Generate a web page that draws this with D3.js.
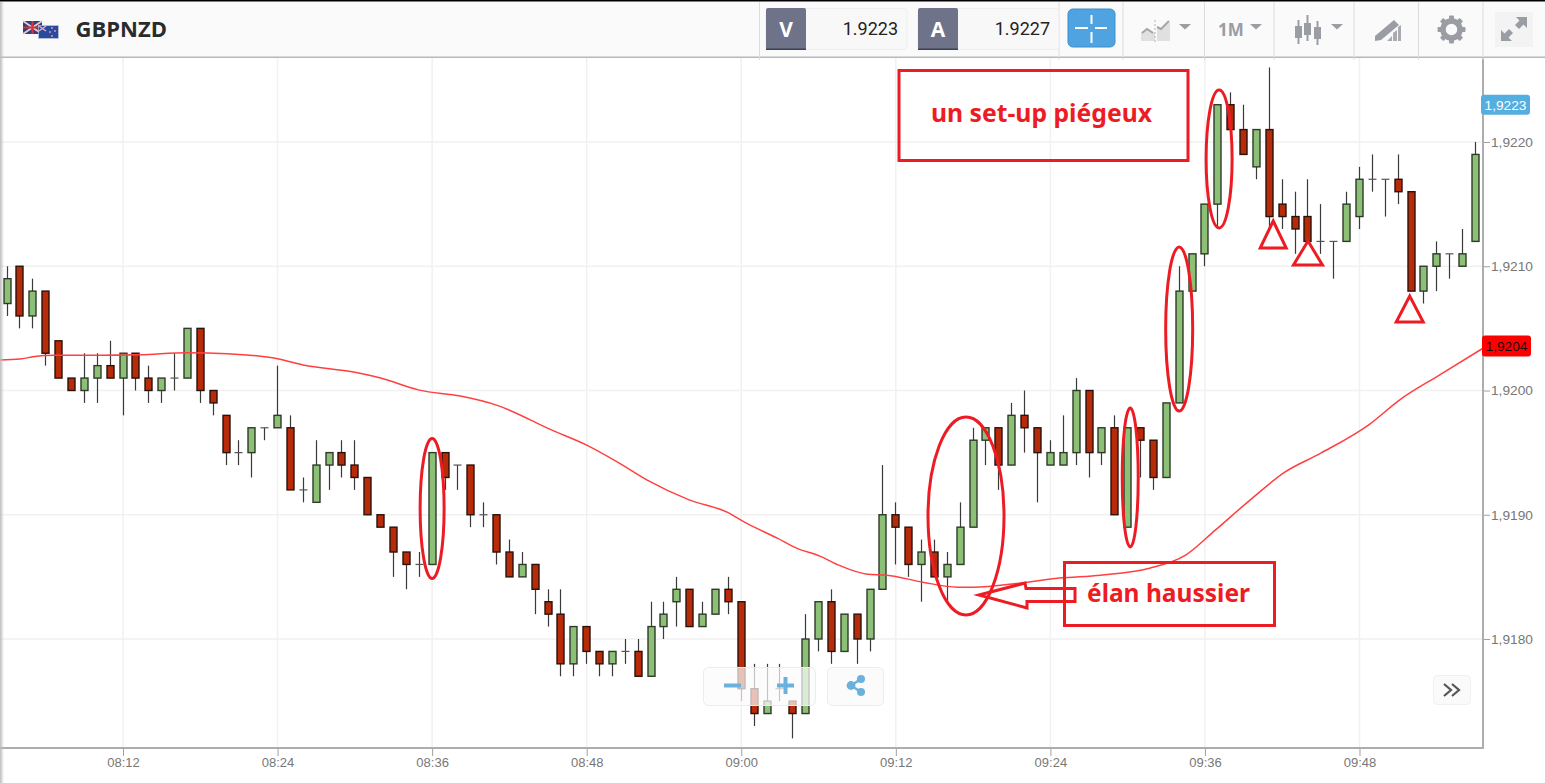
<!DOCTYPE html>
<html><head><meta charset="utf-8">
<style>html,body{margin:0;padding:0;background:#fff;overflow:hidden}svg{display:block}</style>
<script src="https://cdnjs.cloudflare.com/ajax/libs/d3/7.8.5/d3.min.js"></script>
</head><body><svg id="c" width="1545" height="783"></svg>
<script>
// ---- data (prices in 1/10000 above 1.9000; one candle per minute from 08:03) ----
const firstMinute = 483;
const opens = [207,210,206,208,204,201,200,201,202,201,203,201,200,201,201,205,200,198,195,195,197,197,197,192,191,194,195,194,193,190,189,187,186,186,195,194,194,190,190,187,185,186,183,182,178,181,179,178,179,179,177,181,183,184,181,182,184,183,176,174,176,175,174,180,183,179,182,180,184,190,189,186,187,185,186,189,196,197,194,198,197,194,194,195,200,195,197,189,197,196,193,199,208,211,215,223,221,218,221,215,214,214,212,212,212,214,217,217,217,216,208,210,211,210,212];
const highs = [210,210,209,208,204,201,203,203,204,203,203,202,201,203,205,205,200,198,196,197,197,202,198,193,196,195,196,196,193,190,189,187,187,195,195,194,194,191,190,188,187,186,184,184,181,181,179,179,180,180,183,183,185,184,183,184,185,183,178,178,178,175,182,183,184,182,182,184,194,191,189,188,188,187,191,197,197,197,199,200,197,196,198,201,200,197,198,197,197,196,199,210,211,215,223,224,223,221,226,217,216,217,215,212,216,218,219,217,219,216,210,212,211,213,220];
const lows = [206,205,205,202,201,200,199,199,201,198,200,199,199,200,201,199,198,194,194,193,196,197,192,191,191,192,193,192,190,189,185,184,185,186,192,192,189,189,186,185,185,182,181,177,177,178,177,177,178,177,177,180,181,181,181,182,182,175,173,174,175,172,174,179,178,179,178,179,184,186,185,183,185,183,186,189,194,192,194,195,191,194,194,194,193,194,190,189,193,192,193,199,208,210,213,221,219,217,213,213,211,212,211,209,212,213,216,214,215,208,207,208,209,210,212];
const closes = [209,206,208,203,201,200,201,202,201,203,201,200,201,201,205,200,199,195,195,197,197,198,192,192,194,195,194,193,190,189,187,186,186,195,193,194,190,190,187,185,186,184,182,178,181,179,178,179,179,177,181,182,184,181,182,184,183,176,174,175,176,174,180,183,179,182,180,184,190,189,186,187,185,186,189,196,197,194,198,197,195,195,195,200,195,197,190,197,196,193,199,208,211,215,223,221,219,221,214,214,213,212,212,212,215,217,217,217,216,208,210,211,211,211,219];
const maMinutes = [482.45,484,485,486.7,490.2,493.3,497,500.1,504,506,509.9,512,515,518.2,521,525.3,528,530.4,532.7,536,538.9,540.4,542.8,544.3,546.1,547.4,549.8,551.3,554.1,556.8,558,561.6,564.7,567.9,571.7,574.5,576.8,579.5,582.2,585,588.8,591.1,594.2,597.6];
const maValues = [202.45,202.53,202.71,202.83,202.83,202.87,203.04,202.96,202.55,202.05,201.48,201.0,200.03,199.55,198.82,196.81,195.6,194.23,192.78,191.18,190.21,189.32,188.12,187.31,186.67,186.02,185.22,185.14,184.57,184.17,184.17,184.49,184.9,185.14,185.7,186.75,188.76,191.18,193.43,194.96,197.3,199.23,201.24,203.41];
const timeTicks = ["08:12","08:24","08:36","08:48","09:00","09:12","09:24","09:36","09:48"];
const priceTicks = [180,190,200,210,220];
const symbol = "GBPNZD", bid = "1.9223", ask = "1.9227", bidTag = "1,9223", maTag = "1,9204";
const note1 = "un set-up piégeux", note2 = "élan haussier";
const ellipseMarks = [[516,190.5,12,70],[557.45,189.9,38,99],[570.2,193,8,69.5],[574,204.95,13.5,82],[577.1,218.63,13,69]];
const triangleMarks = [[581.3,213.64,13,27],[584,212.03,14.5,24],[591.9,207.6,13.5,26]];

const toMin = s => { const [h,m] = s.split(":").map(Number); return h*60+m; };
const toPrice = p => 1.9 + p/10000;
const candles = opens.map((o,i)=>({t:firstMinute+i,o,h:highs[i],l:lows[i],c:closes[i]}));
const plot = {r:1483,b:748,t:58};
const x = d3.scaleLinear().domain([492,588]).range([123,1359.5]);
const y = d3.scaleLinear().domain([toPrice(180),toPrice(220)]).range([639,142]);

const svg = d3.select("#c");
const defs = svg.append("defs");
defs.append("clipPath").attr("id","plotclip").append("rect").attr("x",0).attr("y",plot.t).attr("width",plot.r).attr("height",plot.b-plot.t);
const g0 = defs.append("linearGradient").attr("id","edge");
g0.append("stop").attr("offset",0).attr("stop-color","#bdbdbd");
g0.append("stop").attr("offset",1).attr("stop-color","#bdbdbd").attr("stop-opacity",0);

svg.append("rect").attr("width",1545).attr("height",783).attr("fill","#fff");

// grid
const grid = svg.append("g").attr("stroke","#f1f1f1").attr("stroke-width",1.5);
grid.selectAll("line.v").data(timeTicks).join("line").attr("x1",d=>x(toMin(d))).attr("x2",d=>x(toMin(d))).attr("y1",plot.t).attr("y2",plot.b);
grid.selectAll("line.h").data(priceTicks).join("line").attr("y1",d=>y(toPrice(d))).attr("y2",d=>y(toPrice(d))).attr("x1",0).attr("x2",plot.r);

// axes
const xAxis = svg.append("g").attr("transform",`translate(0,${plot.b})`)
  .call(d3.axisBottom(x).tickValues(timeTicks.map(toMin)).tickSize(8).tickSizeOuter(0).tickPadding(2)
    .tickFormat((d,i)=>timeTicks[i]));
const yAxis = svg.append("g").attr("transform",`translate(${plot.r},0)`)
  .call(d3.axisRight(y).tickValues(priceTicks.map(toPrice)).tickSize(7).tickSizeOuter(0).tickPadding(1)
    .tickFormat(d=>d3.format(".4f")(d).replace(".",",")));
[xAxis,yAxis].forEach(a=>{
  a.selectAll("text").attr("fill","#777").style("font","13.7px 'Liberation Sans',Arial,sans-serif");
  a.selectAll(".tick line").attr("stroke","#a0a0a0");
  a.select(".domain").remove();
});
xAxis.selectAll("text").style("font","13px 'Liberation Sans',Arial,sans-serif");
svg.append("line").attr("x1",0).attr("x2",plot.r+1).attr("y1",plot.b).attr("y2",plot.b).attr("stroke","#adadad").attr("stroke-width",2);
svg.append("line").attr("x1",plot.r).attr("x2",plot.r).attr("y1",plot.t).attr("y2",plot.b+1).attr("stroke","#adadad").attr("stroke-width",2);

// candles
const chart = svg.append("g").attr("clip-path","url(#plotclip)");
const cg = chart.selectAll("g.c").data(candles).join("g").attr("class","c");
const cx = d => Math.floor(x(d.t))+.5;
cg.append("line").attr("x1",cx).attr("x2",cx)
  .attr("y1",d=>y(toPrice(d.h))).attr("y2",d=>y(toPrice(d.l))).attr("stroke","#3a3a3a").attr("stroke-width",1.2);
cg.filter(d=>d.o!==d.c).append("rect")
  .attr("x",d=>cx(d)-3.5).attr("width",7)
  .attr("y",d=>y(toPrice(Math.max(d.o,d.c)))).attr("height",d=>Math.abs(y(toPrice(d.o))-y(toPrice(d.c))))
  .attr("fill",d=>d.c>d.o?"#8bc076":"#b72b08").attr("stroke",d=>d.c>d.o?"#2f3a2a":"#2a120c").attr("stroke-width",1.4);
cg.filter(d=>d.o===d.c).append("line")
  .attr("x1",d=>cx(d)-4).attr("x2",d=>cx(d)+4)
  .attr("y1",d=>y(toPrice(d.o))).attr("y2",d=>y(toPrice(d.o))).attr("stroke","#555").attr("stroke-width",1.2);

// moving average
chart.append("path").datum(maMinutes.map((m,i)=>[m,maValues[i]]))
  .attr("fill","none").attr("stroke","#ff4040").attr("stroke-width",1.5)
  .attr("d",d3.line().x(d=>x(d[0])).y(d=>y(toPrice(d[1]))).curve(d3.curveMonotoneX));

// zoom widgets
const widget = svg.append("g");
widget.append("rect").attr("x",703.5).attr("y",667.5).attr("width",112).attr("height",38).attr("rx",5).attr("fill","#fbfbfb").attr("fill-opacity",.72).attr("stroke","#ececec");
widget.append("rect").attr("x",827.5).attr("y",667.5).attr("width",56).attr("height",38).attr("rx",5).attr("fill","#fbfbfb").attr("fill-opacity",.9).attr("stroke","#ececec");
widget.append("path").attr("d","M724 685.5H741M777 685.5H794M785.5 677V694").attr("stroke","#6bb1de").attr("stroke-width",4).attr("fill","none");
widget.append("path").attr("d","M861 679L851 685.5L861 692").attr("stroke","#6bb1de").attr("stroke-width",2.5).attr("fill","none");
[[861,679,4],[851,685.5,4.4],[861,692,4]].forEach(c=>widget.append("circle").attr("cx",c[0]).attr("cy",c[1]).attr("r",c[2]).attr("fill","#6bb1de"));
widget.append("rect").attr("x",1433.5).attr("y",675.5).attr("width",37).attr("height",29).attr("rx",4).attr("fill","#fafafa").attr("stroke","#f0f0f0");
widget.append("path").attr("d","M1444 684L1451 690L1444 696M1452 684L1459 690L1452 696").attr("stroke","#555").attr("stroke-width",2.2).attr("fill","none");

// price tags
const tag = (ty,h,fill,txt,col,tx,w)=>{
  svg.append("rect").attr("x",tx).attr("y",ty-h/2).attr("width",w).attr("height",h).attr("rx",3).attr("fill",fill);
  svg.append("text").attr("x",tx+w/2).attr("y",ty+4.8).attr("text-anchor","middle").attr("fill",col)
    .style("font","13.7px 'Liberation Sans',Arial,sans-serif").text(txt);
};
tag(y(toPrice(223)),20,"#55aee0",bidTag,"#fff",1481,49);
tag(346,21,"#ff0000",maTag,"#111",1482,49);

// toolbar
const bar = svg.append("g");
bar.append("rect").attr("width",1545).attr("height",57).attr("fill","#fafafa");
bar.append("rect").attr("width",1545).attr("height",1.5).attr("fill","#000");
bar.append("rect").attr("y",56.5).attr("width",1545).attr("height",1.5).attr("fill","#b8b8b8");
[759.5,1059,1123,1204.5,1274,1354,1418.5,1483].forEach(sx=>bar.append("line").attr("x1",sx).attr("x2",sx).attr("y1",2).attr("y2",60).attr("stroke","#dcdcdc"));

bar.append("text").attr("x",75.5).attr("y",37).attr("fill","#2b2b2b").style("font","700 22px 'Open Sans',sans-serif").text(symbol);
// flags
const fl = bar.append("g");
fl.append("rect").attr("x",23).attr("y",21).attr("width",19).attr("height",13).attr("fill","#2d3f7c");
fl.append("path").attr("d","M23 21L42 34M42 21L23 34").attr("stroke","#e8c8cc").attr("stroke-width",2);
fl.append("path").attr("d","M32.5 21V34M23 27.5H42").attr("stroke","#d8333b").attr("stroke-width",2.2);
fl.append("rect").attr("x",38.5).attr("y",25.5).attr("width",20).attr("height",13).attr("fill","#2a4a9e").attr("stroke","#c8d0e0").attr("stroke-width",.6);
fl.append("path").attr("d","M39 26L46 31M46 26L39 31").attr("stroke","#e5b0bc").attr("stroke-width",1.4);
[[52,28],[55,31],[50,32],[52,36]].forEach(p=>fl.append("circle").attr("cx",p[0]).attr("cy",p[1]).attr("r",.9).attr("fill","#e8a0a8"));

const quote = (bx,w,letter,val)=>{
  bar.append("rect").attr("x",bx).attr("y",8.5).attr("width",w).attr("height",41).attr("rx",3).attr("fill","#f8f8f8").attr("stroke","#eeeeee");
  bar.append("rect").attr("x",bx).attr("y",8).attr("width",40).attr("height",42).attr("rx",2).attr("fill","#6e7389");
  bar.append("rect").attr("x",bx).attr("y",48.5).attr("width",40).attr("height",1.5).attr("fill","#3d4050");
  bar.append("text").attr("x",bx+20).attr("y",37).attr("text-anchor","middle").attr("fill","#fff").style("font","700 21px 'Open Sans',sans-serif").text(letter);
  bar.append("text").attr("x",bx+w-9).attr("y",35).attr("text-anchor","end").attr("fill","#222").style("font","18px Roboto,sans-serif").text(val);
};
quote(766,141,"V",bid);
quote(918,141,"A",ask);
bar.append("rect").attr("x",1068).attr("y",9).attr("width",47).attr("height",38).attr("rx",5).attr("fill","#4ea3e0").attr("stroke","#3b8fcb");
bar.append("path").attr("d","M1091.5 15V24M1091.5 32V43M1075 28H1088M1095 28H1107").attr("stroke","#fff").attr("stroke-width",2).attr("fill","none");

bar.append("rect").attr("x",1495).attr("y",12).attr("width",38).attr("height",35).attr("fill","#f3f3f3");
const icon = bar.append("g").attr("fill","#9a9da3");
// area/line icon
icon.append("path").attr("d","M1141 38V33L1147 28L1155 33V41H1141Z").attr("fill","#e0e0e0");
icon.append("path").attr("d","M1157 41V27L1163 28L1170 22V41Z").attr("fill","#e0e0e0");
bar.append("path").attr("d","M1142 33L1147 29L1153 33M1157 27L1161 29L1169 21").attr("stroke","#a5a5a5").attr("stroke-width",2).attr("fill","none");
bar.append("line").attr("x1",1155).attr("x2",1155).attr("y1",20).attr("y2",43).attr("stroke","#b5b5b5").attr("stroke-dasharray","2 2");
const caret = c => icon.append("path").attr("d",`M${c-6} 24H${c+6}L${c} 29.5Z`);
[1185,1256,1337].forEach(caret);
bar.append("text").attr("x",1218).attr("y",35.5).attr("fill","#9a9da3").style("font","700 17px 'Open Sans',sans-serif").text("1M");
[[1298,26,38,20,44],[1307,23,35,15,41],[1317,27,39,21,45]].forEach(c=>{
  icon.append("rect").attr("x",c[0]-3).attr("y",c[1]).attr("width",7).attr("height",c[2]-c[1]);
  icon.append("rect").attr("x",c[0]-.5).attr("y",c[3]).attr("width",2).attr("height",c[4]-c[3]);
});
// pen
icon.append("path").attr("d","M1375 36L1394 20L1399 25L1381 40L1375 41Z");
icon.append("path").attr("d","M1387 41L1392 36V41ZM1393 41V33L1397 30V41ZM1398 41V27L1401 25V41Z").attr("fill","#a9abb0");
// gear
const gear = icon.append("g").attr("transform","translate(1451.5,29.5)");
gear.append("circle").attr("r",8.5).attr("fill","none").attr("stroke","#9a9da3").attr("stroke-width",5.5);
d3.range(8).forEach(i=>gear.append("rect").attr("x",-2.5).attr("y",-14).attr("width",5).attr("height",5).attr("rx",1).attr("transform",`rotate(${i*45})`));
// expand
icon.append("path").attr("d","M1516 17H1527V28L1523.5 24.5L1519 29L1515 25L1519.5 20.5Z");
icon.append("path").attr("d","M1512 41H1501V30L1504.5 33.5L1509 29L1513 33L1508.5 37.5Z");

// left edge shade
svg.append("rect").attr("x",0).attr("y",2).attr("width",4).attr("height",781).attr("fill","url(#edge)");

// annotations
const red = "#ed1c24";
const ann = svg.append("g").attr("fill","none").attr("stroke",red).attr("stroke-width",3);
ann.selectAll("ellipse").data(ellipseMarks).join("ellipse")
  .attr("cx",d=>x(d[0])).attr("cy",d=>y(toPrice(d[1]))).attr("rx",d=>d[2]).attr("ry",d=>d[3]);
ann.selectAll("path.tri").data(triangleMarks).join("path").attr("class","tri")
  .attr("d",d=>{const a=x(d[0]),b=y(toPrice(d[1]));return `M${a} ${b}L${a+d[2]} ${b+d[3]}H${a-d[2]}Z`;});
ann.append("rect").attr("x",899).attr("y",70.5).attr("width",289).attr("height",90);
ann.append("rect").attr("x",1064.5).attr("y",562.5).attr("width",210).attr("height",63);
ann.append("path").attr("d","M979 595L1025 583L1026 588.5H1075V601.5H1027V608Z");
const noteStyle = "700 24.5px 'Noto Sans','Open Sans',sans-serif";
svg.append("text").attr("x",931).attr("y",122).attr("fill",red).attr("textLength",221).attr("lengthAdjust","spacingAndGlyphs").style("font",noteStyle).text(note1);
svg.append("text").attr("x",1087).attr("y",602).attr("fill",red).attr("textLength",163).attr("lengthAdjust","spacingAndGlyphs").style("font",noteStyle).text(note2);
</script></body></html>
